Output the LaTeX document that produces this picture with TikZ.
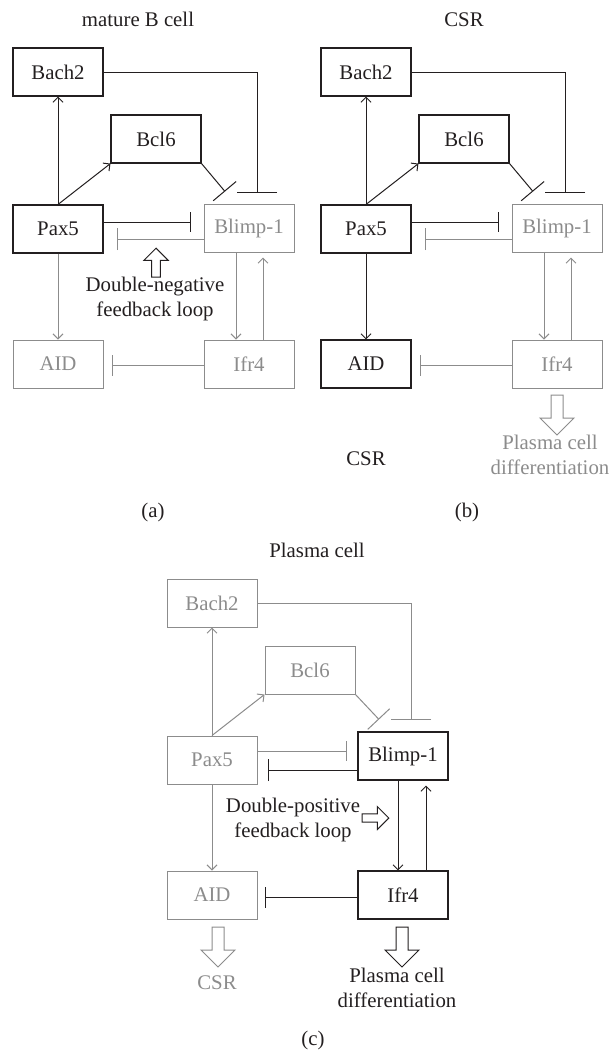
\documentclass[tikz,border=0pt]{standalone}
\usepackage{fontspec}
\setmainfont{Liberation Serif}
\usetikzlibrary{arrows.meta,calc}
\definecolor{dk}{RGB}{35,31,32}
\definecolor{lt}{RGB}{140,140,140}
\tikzset{
  txt/.style={font=\fontsize{20.8}{25}\selectfont, inner sep=0pt, align=center},
  gbox/.style={draw, minimum width=90pt, minimum height=48pt, inner sep=0pt, font=\fontsize{20.8}{25}\selectfont},
  dkbox/.style={gbox, draw=dk, text=dk, line width=1.1pt},
  ltbox/.style={gbox, draw=lt, text=lt, line width=1pt},
  act/.style={-{Straight Barb[length=5pt,width=10pt]}, line width=1pt},
  inh/.style={-{Bar[width=#1]}, line width=1pt},
  harrow/.pic={\draw[line width=1pt, fill=white] (-6,0) -- (-6,23) -- (-17,23) -- (0,40) -- (17,23) -- (6,23) -- (6,0) -- cycle;}
}
\begin{document}
\begin{tikzpicture}[x=1pt,y=-1pt]
\useasboundingbox (0,0) rectangle (612,1053);
\fill[white] (0,0) rectangle (612,1053);

% ---------------- panel (a) ----------------
\node[txt, text=dk] (a-title) at (138,19) {mature B cell};
\node[dkbox] (a-bach) at (58,72) {Bach2};
\node[dkbox] (a-bcl) at (156,139) {Bcl6};
\node[dkbox] (a-pax) at (58,229) {Pax5};
\node[ltbox] (a-blimp) at (249,228) {Blimp-1};
\node[ltbox] (a-aid) at (58,364) {AID};
\node[ltbox] (a-ifr) at (249,364) {Ifr4};
\coordinate (a-t1) at ($(a-blimp.north)+(-24,-12)$);
\coordinate (a-t2) at ($(a-blimp.north)+(8,-11)$);
\coordinate (a-t3) at ($(a-pax.east)+(87,-7)$);
\coordinate (a-t4) at ($(a-blimp.west)+(-87,11)$);
\coordinate (a-t5) at ($(a-ifr.west)+(-92,1)$);
\draw[act, dk] (a-pax.north) -- (a-bach.south);
\draw[act, dk] (a-pax.north) -- (a-bcl.south west);
\draw[inh=30pt, dk] (a-bcl.south east) -- (a-t1);
\draw[inh=40pt, dk] (a-bach.east) -| (a-t2);
\draw[inh=20pt, dk] ($(a-pax.east)+(0,-7)$) -- (a-t3);
\draw[inh=22pt, lt] ($(a-blimp.west)+(0,11)$) -- (a-t4);
\draw[act, lt] (a-pax.south) -- (a-aid.north);
\draw[act, lt] ($(a-blimp.south)+(-13,0)$) -- ($(a-ifr.north)+(-13,0)$);
\draw[act, lt] ($(a-ifr.north)+(14,0)$) -- ($(a-blimp.south)+(14,5)$);
\draw[inh=21pt, lt] ($(a-ifr.west)+(0,1)$) -- (a-t5);
\pic[color=dk, rotate=180, scale=0.72] at (156,277) {harrow};
\node[txt, text=dk] (a-loop) at (155,299) {Double-negative\\feedback loop};
\node[txt, text=dk] (a-lab) at (153,512) {(a)};

% ---------------- panel (b) ----------------
\begin{scope}[shift={(308,0)}]
\node[txt, text=dk] (b-title) at (156,20) {CSR};
\node[dkbox] (b-bach) at (58,72) {Bach2};
\node[dkbox] (b-bcl) at (156,139) {Bcl6};
\node[dkbox] (b-pax) at (58,229) {Pax5};
\node[ltbox] (b-blimp) at (249,228) {Blimp-1};
\node[dkbox] (b-aid) at (58,364) {AID};
\node[ltbox] (b-ifr) at (249,364) {Ifr4};
\coordinate (b-t1) at ($(b-blimp.north)+(-24,-12)$);
\coordinate (b-t2) at ($(b-blimp.north)+(8,-11)$);
\coordinate (b-t3) at ($(b-pax.east)+(87,-7)$);
\coordinate (b-t4) at ($(b-blimp.west)+(-87,11)$);
\coordinate (b-t5) at ($(b-ifr.west)+(-92,1)$);
\draw[act, dk] (b-pax.north) -- (b-bach.south);
\draw[act, dk] (b-pax.north) -- (b-bcl.south west);
\draw[inh=30pt, dk] (b-bcl.south east) -- (b-t1);
\draw[inh=40pt, dk] (b-bach.east) -| (b-t2);
\draw[inh=20pt, dk] ($(b-pax.east)+(0,-7)$) -- (b-t3);
\draw[inh=22pt, lt] ($(b-blimp.west)+(0,11)$) -- (b-t4);
\draw[act, dk] (b-pax.south) -- (b-aid.north);
\draw[act, lt] ($(b-blimp.south)+(-13,0)$) -- ($(b-ifr.north)+(-13,0)$);
\draw[act, lt] ($(b-ifr.north)+(14,0)$) -- ($(b-blimp.south)+(14,5)$);
\draw[inh=21pt, lt] ($(b-ifr.west)+(0,1)$) -- (b-t5);
\pic[color=lt] at (249,395) {harrow};
\node[txt, text=lt] (b-diff) at (242,455) {Plasma cell\\differentiation};
\node[txt, text=dk] (b-csr) at (58,459) {CSR};
\node[txt, text=dk] (b-lab) at (159,512) {(b)};
\end{scope}

% ---------------- panel (c) ----------------
\node[txt, text=dk] (c-title) at (317,550) {Plasma cell};
\begin{scope}[shift={(154,531)}]
\node[ltbox] (c-bach) at (58,72) {Bach2};
\node[ltbox] (c-bcl) at (156,139) {Bcl6};
\node[ltbox] (c-pax) at (58,229) {Pax5};
\node[dkbox] (c-blimp) at (249,225) {Blimp-1};
\node[ltbox] (c-aid) at (58,364) {AID};
\node[dkbox] (c-ifr) at (249,364) {Ifr4};
\coordinate (c-t1) at ($(c-blimp.north)+(-24,-12)$);
\coordinate (c-t2) at ($(c-blimp.north)+(8,-11)$);
\coordinate (c-t3) at ($(c-pax.east)+(89,-9)$);
\coordinate (c-t4) at ($(c-blimp.west)+(-89,14)$);
\coordinate (c-t5) at ($(c-ifr.west)+(-92,2)$);
\draw[act, lt] (c-pax.north) -- (c-bach.south);
\draw[act, lt] (c-pax.north) -- (c-bcl.south west);
\draw[inh=30pt, lt] (c-bcl.south east) -- (c-t1);
\draw[inh=40pt, lt] (c-bach.east) -| (c-t2);
\draw[inh=20pt, lt] ($(c-pax.east)+(0,-9)$) -- (c-t3);
\draw[inh=22pt, dk] ($(c-blimp.west)+(0,14)$) -- (c-t4);
\draw[act, lt] (c-pax.south) -- (c-aid.north);
\draw[act, dk] ($(c-blimp.south)+(-5,0)$) -- ($(c-ifr.north)+(-5,0)$);
\draw[act, dk] ($(c-ifr.north)+(23,0)$) -- ($(c-blimp.south)+(23,5)$);
\draw[inh=21pt, dk] ($(c-ifr.west)+(0,2)$) -- (c-t5);
\end{scope}
\pic[color=dk, rotate=90, scale=0.67] at (362,818) {harrow};
\node[txt, text=dk] (c-loop) at (293,820) {Double-positive\\feedback loop};
\pic[color=lt] at (218,927) {harrow};
\node[txt, text=lt] (c-csr) at (217,983) {CSR};
\pic[color=dk] at (402,927) {harrow};
\node[txt, text=dk] (c-diff) at (397,988) {Plasma cell\\differentiation};
\node[txt, text=dk] (c-lab) at (313,1040) {(c)};
\end{tikzpicture}
\end{document}
